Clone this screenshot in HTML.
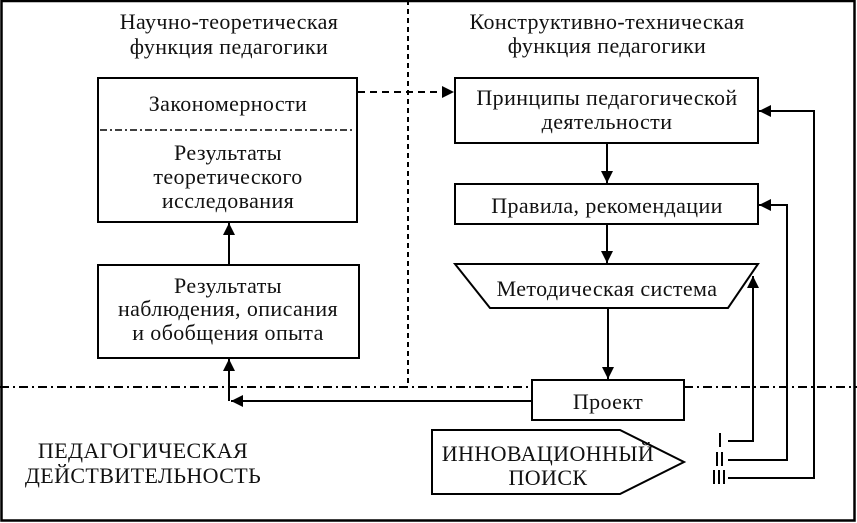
<!DOCTYPE html>
<html><head><meta charset="utf-8"><style>
html,body{margin:0;padding:0;background:#fff;}
svg{display:block;}
text{font-family:"Liberation Serif","DejaVu Serif",serif;fill:#111;text-anchor:middle;letter-spacing:0.4px;}
</style></head><body>
<svg width="857" height="523" viewBox="0 0 857 523" xmlns="http://www.w3.org/2000/svg">
<defs>
<marker id="a" viewBox="0 0 10 10" refX="10" refY="5" markerWidth="13" markerHeight="12" markerUnits="userSpaceOnUse" orient="auto"><path d="M0,0 L10,5 L0,10 z" fill="#000"/></marker>
</defs>
<g fill="none" stroke="#000">
<rect x="1.5" y="1" width="853" height="519.5" stroke-width="2.5"/>
<line x1="408" y1="0" x2="408" y2="386" stroke-width="2" stroke-dasharray="5,4"/>
<line x1="0" y1="387" x2="857" y2="387" stroke-width="2" stroke-dasharray="9,4,2,4"/>
<rect x="98" y="78" width="259" height="144" stroke-width="2"/>
<line x1="100" y1="130" x2="355" y2="130" stroke-width="1.5" stroke-dasharray="7,3,2,3"/>
<rect x="98" y="265" width="261" height="93" stroke-width="2"/>
<line x1="229" y1="265" x2="229" y2="223" stroke-width="2" marker-end="url(#a)"/>
<line x1="358" y1="92" x2="454" y2="92" stroke-width="2" stroke-dasharray="7,5" marker-end="url(#a)"/>
<rect x="455" y="78" width="303" height="65" stroke-width="2"/>
<rect x="455" y="184" width="303" height="40" stroke-width="2"/>
<path d="M455,264 L758,264 L728,308 L490,308 Z" stroke-width="2"/>
<line x1="607" y1="143" x2="607" y2="183" stroke-width="2" marker-end="url(#a)"/>
<line x1="607" y1="224" x2="607" y2="263" stroke-width="2" marker-end="url(#a)"/>
<line x1="608" y1="308" x2="608" y2="379" stroke-width="2" marker-end="url(#a)"/>
<rect x="532" y="380" width="152" height="40" stroke-width="2" fill="#fff"/>
<line x1="532" y1="401" x2="231" y2="401" stroke-width="2" marker-end="url(#a)"/>
<line x1="229" y1="401" x2="229" y2="359" stroke-width="2" marker-end="url(#a)"/>
<path d="M432,430 L620,430 L684,462 L620,494 L432,494 Z" stroke-width="2"/>
<polyline points="728,441 753,441 753,276" stroke-width="2" marker-end="url(#a)"/>
<polyline points="728,460 787,460 787,205 759,205" stroke-width="2" marker-end="url(#a)"/>
<polyline points="728,478 814,478 814,111 759,111" stroke-width="2" marker-end="url(#a)"/>
<line x1="720" y1="433" x2="720" y2="447" stroke-width="2"/>
<line x1="717" y1="452" x2="717" y2="466" stroke-width="2"/>
<line x1="722" y1="452" x2="722" y2="466" stroke-width="2"/>
<line x1="714" y1="470" x2="714" y2="484" stroke-width="2"/>
<line x1="719" y1="470" x2="719" y2="484" stroke-width="2"/>
<line x1="724" y1="470" x2="724" y2="484" stroke-width="2"/>
</g>
<g font-size="22">
<text x="229" y="29">Научно-теоретическая</text>
<text x="229" y="54">функция педагогики</text>
<text x="607" y="29">Конструктивно-техническая</text>
<text x="607" y="53">функция педагогики</text>
<text x="228" y="111">Закономерности</text>
<text x="228" y="160">Результаты</text>
<text x="228" y="184">теоретического</text>
<text x="228" y="208">исследования</text>
<text x="228" y="293">Результаты</text>
<text x="228" y="316">наблюдения, описания</text>
<text x="228" y="340">и обобщения опыта</text>
<text x="607" y="105">Принципы педагогической</text>
<text x="607" y="129">деятельности</text>
<text x="607" y="213">Правила, рекомендации</text>
<text x="607" y="296">Методическая система</text>
<text x="608" y="409">Проект</text>
<text x="548" y="461">ИННОВАЦИОННЫЙ</text>
<text x="548" y="485">ПОИСК</text>
<text x="143" y="458">ПЕДАГОГИЧЕСКАЯ</text>
<text x="143" y="483">ДЕЙСТВИТЕЛЬНОСТЬ</text>
</g>
</svg>
</body></html>
